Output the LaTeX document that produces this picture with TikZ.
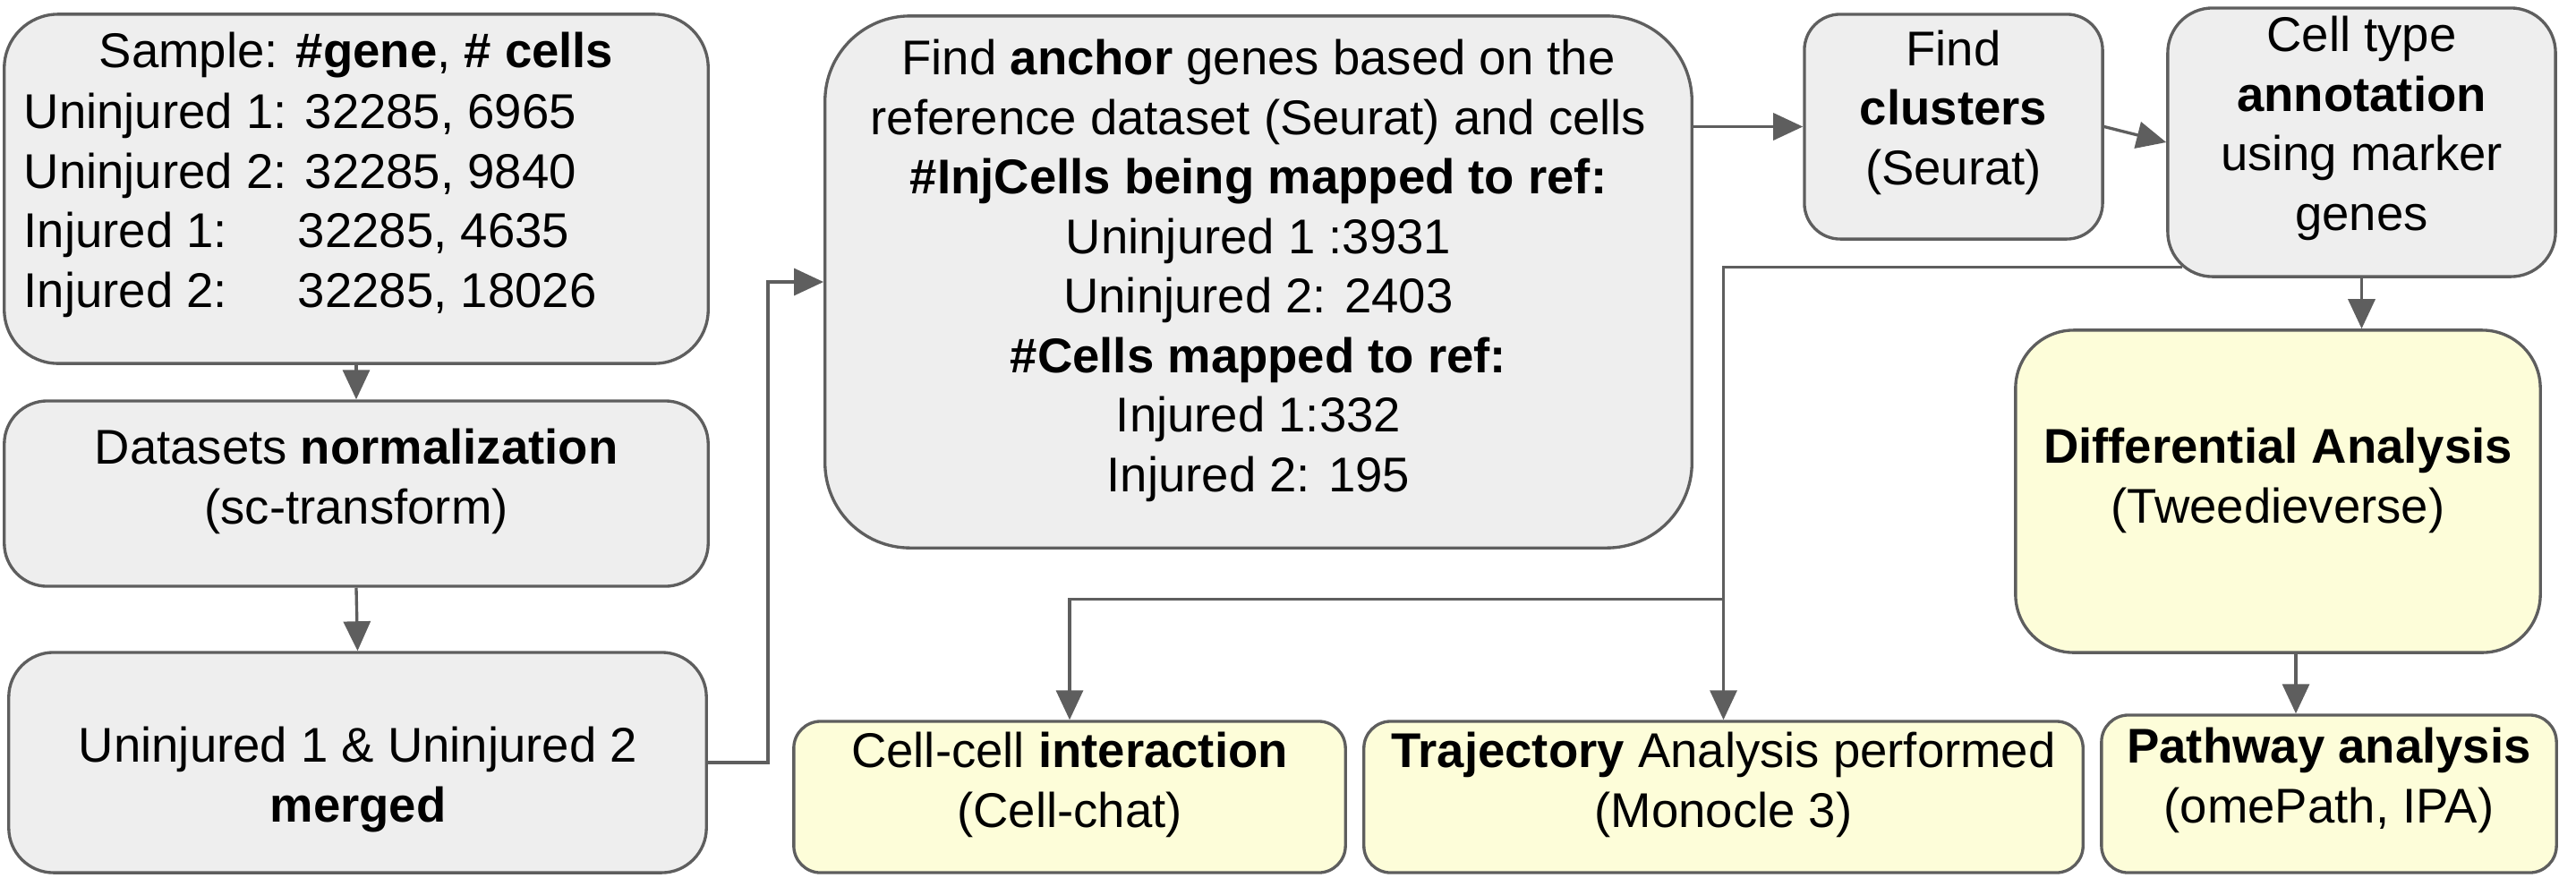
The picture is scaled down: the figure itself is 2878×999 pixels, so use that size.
\documentclass[tikz,border=0pt]{standalone}
\usepackage{fontspec}
\setmainfont{Liberation Sans}
\usetikzlibrary{arrows.meta,calc}
\definecolor{lc}{RGB}{94,94,94}
\definecolor{gfill}{RGB}{238,238,238}
\definecolor{yfill}{RGB}{253,253,217}
\newcommand{\fsz}{\fontsize{15.5pt}{18.9pt}\selectfont}
\tikzset{
  gbox/.style={draw=lc, fill=gfill, line width=0.95pt, rounded corners=#1, inner sep=0pt},
  ybox/.style={draw=lc, fill=yfill, line width=0.95pt, rounded corners=#1, inner sep=0pt},
  txt/.style={align=center, inner sep=0pt, anchor=base, font=\fsz},
  ltxt/.style={align=left, inner sep=0pt, anchor=base west, font=\fsz},
  arr/.style={draw=lc, line width=0.95pt, -{Triangle[length=0.33cm,width=0.3cm]}},
  conn/.style={draw=lc, line width=0.95pt},
}
\begin{document}
\begin{tikzpicture}[x=0.01cm,y=-0.01cm]
\useasboundingbox (0,0) rectangle (2878,999);
% boxes
\node[gbox=0.6cm, minimum width=7.86cm, minimum height=3.90cm] (b1) at (398,211) {};
\node[gbox=0.48cm, minimum width=7.86cm, minimum height=2.07cm] (b2) at (398,551.5) {};
\node[gbox=0.5cm, minimum width=7.79cm, minimum height=2.46cm] (b3) at (399.5,852) {};
\node[gbox=0.95cm, minimum width=9.68cm, minimum height=5.94cm] (b4) at (1406,315) {};
\node[gbox=0.4cm, minimum width=3.33cm, minimum height=2.51cm] (b5) at (2182.5,141.5) {};
\node[gbox=0.5cm, minimum width=4.33cm, minimum height=3.00cm] (b6) at (2638.5,159) {};
\node[ybox=0.65cm, minimum width=5.86cm, minimum height=3.60cm] (diff) at (2545,549) {};
\node[ybox=0.3cm, minimum width=6.16cm, minimum height=1.69cm] (cell) at (1195,890.5) {};
\node[ybox=0.3cm, minimum width=8.03cm, minimum height=1.69cm] (traj) at (1925.5,890.5) {};
\node[ybox=0.3cm, minimum width=5.08cm, minimum height=1.76cm] (path) at (2602,887) {};
% texts (anchor base = baseline of the last line)
\node[txt] (t1) at (398,75) {Sample: \textbf{\#gene}, \textbf{\# cells}};
\node[ltxt] (t1b) at (26,343) {Uninjured 1: 32285, 6965\\Uninjured 2: 32285, 9840\\\makebox[5.62em][l]{Injured 1:}32285, 4635\\\makebox[5.62em][l]{Injured 2:}32285, 18026};
\node[txt] (t2) at (398,585) {Datasets \textbf{normalization}\\(sc-transform)};
\node[txt] (t3) at (400,918) {Uninjured 1 \& Uninjured 2\\\textbf{merged}};
\node[txt] (t4) at (1406,549) {Find \textbf{anchor} genes based on the\\reference dataset (Seurat) and cells\\\textbf{\#InjCells being mapped to ref:}\\Uninjured 1 :3931\\Uninjured 2: 2403\\\textbf{\#Cells mapped to ref:}\\Injured 1:332\\Injured 2: 195};
\node[txt] (t5) at (2182.5,206) {Find\\\textbf{clusters}\\(Seurat)};
\node[txt] (t6) at (2638.5,257) {Cell type\\\textbf{annotation}\\using marker\\genes};
\node[txt] (t7) at (2545,584) {\textbf{Differential Analysis}\\(Tweedieverse)};
\node[txt] (t8) at (1195,924) {Cell-cell \textbf{interaction}\\(Cell-chat)};
\node[txt] (t9) at (1925.5,924) {\textbf{Trajectory} Analysis performed\\(Monocle 3)};
\node[txt] (t10) at (2602,919) {\textbf{Pathway analysis}\\(omePath, IPA)};
% connectors
\draw[arr] (b1.south) -- (b2.north);
\draw[arr] (b2.south) -- (b3.north);
\draw[arr] (b3.east) -- ++(67,0) |- (b4.west);
\draw[arr] (b4.east |- b5.west) -- (b5.west);
\draw[arr] (b5.east) -- (b6.west);
\draw[arr] (b6.south) -- (b6.south |- diff.north);
\draw[arr] ([xshift=0.2cm]diff.south) -- ([xshift=0.2cm]diff.south |- path.north);
\coordinate (c6) at ([xshift=0.18cm,yshift=0.12cm]b6.south west);
\draw[arr] (c6) -| (traj.north);
\coordinate (br) at ([yshift=1.35cm]traj.north);
\draw[arr] (br) -| (cell.north);
\end{tikzpicture}
\end{document}
